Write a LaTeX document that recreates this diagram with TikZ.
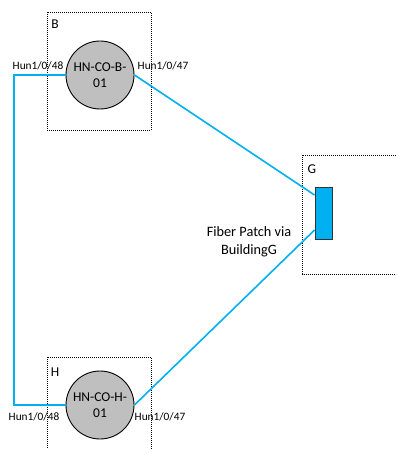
\documentclass[tikz,border=0pt]{standalone}
\usepackage{fontspec}
\setmainfont{Carlito}
\definecolor{fiber}{HTML}{00B0F0}
\definecolor{switchgray}{HTML}{BFBFBF}
\begin{document}
\begin{tikzpicture}[x=1pt,y=-1pt,
  area/.style={draw=black, dash pattern=on 1pt off 1pt, line width=0.9pt},
  switch/.style={circle, draw=black, line width=0.9pt, fill=switchgray,
    minimum size=68pt, inner sep=0pt, align=center,
    font=\fontsize{13.5}{15.5}\selectfont},
  patchpanel/.style={draw=black!80, line width=0.9pt, fill=fiber,
    minimum width=17pt, minimum height=52pt, inner sep=0pt},
  fiberlink/.style={draw=fiber, line width=1.6pt},
  port/.style={font=\fontsize{11.3}{12}\selectfont, inner sep=0pt},
  arealabel/.style={font=\fontsize{13.5}{15}\selectfont, inner sep=0pt},
  note/.style={font=\fontsize{14.3}{18}\selectfont, align=center, inner sep=0pt}]
\useasboundingbox (0,0) rectangle (396,449);
\begin{scope}
\clip (0,0) rectangle (396,449);
% building areas
\draw[area] (47,12) rectangle (151,130);
\draw[area] (47,357) rectangle (151,470);
\draw[area] (302.5,155) rectangle (420,274);
\end{scope}
\node[arealabel] (lblB) at (55,24) {B};
\node[arealabel] (lblH) at (55,372) {H};
\node[arealabel] (lblG) at (312,169) {G};
% switches and patch panel
\node[switch] (swB) at (100,75) {HN-CO-B-\\01};
\node[switch] (swH) at (100,405) {HN-CO-H-\\01};
\node[patchpanel] (patch) at (323.5,213) {};
% links
\coordinate (bend1) at (14,75);
\coordinate (bend2) at (14,405);
\draw[fiberlink] (swB.west) -- (bend1) -- (bend2) -- (swH.west);
\draw[fiberlink] (swB.east) -- ([yshift=18pt]patch.west);
\draw[fiberlink] (swH.east) -- ([yshift=-17pt]patch.west);
% port labels
\node[port] (pB48) at (38,66) {Hun1/0/48};
\node[port] (pB47) at (163,66) {Hun1/0/47};
\node[port] (pH48) at (34,417) {Hun1/0/48};
\node[port] (pH47) at (160,417) {Hun1/0/47};
\node[note] (fp) at (249,242) {Fiber Patch via\\BuildingG};
\end{tikzpicture}
\end{document}
